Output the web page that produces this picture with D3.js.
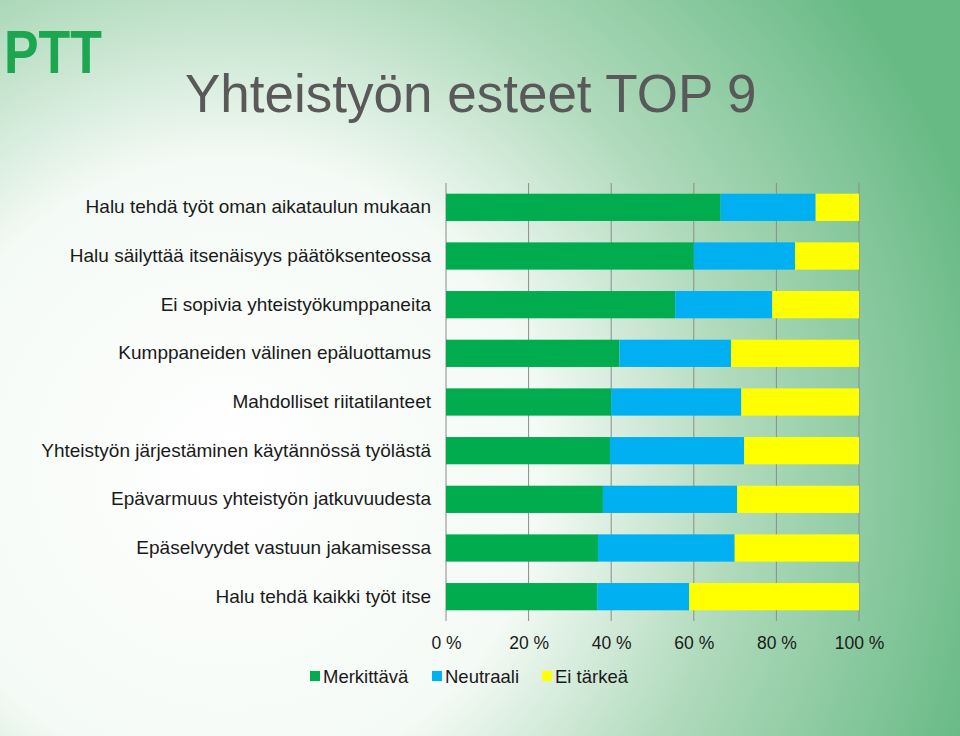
<!DOCTYPE html>
<html>
<head>
<meta charset="utf-8">
<script src="https://cdn.jsdelivr.net/npm/d3@7"></script>
<style>
  body { margin: 0; }
  svg { display: block; font-family: "Liberation Sans", Arial, sans-serif; }
</style>
</head>
<body>
<svg width="960" height="736"></svg>
<script>
// categories top to bottom
var categories = [
  "Halu tehdä työt oman aikataulun mukaan",
  "Halu säilyttää itsenäisyys päätöksenteossa",
  "Ei sopivia yhteistyökumppaneita",
  "Kumppaneiden välinen epäluottamus",
  "Mahdolliset riitatilanteet",
  "Yhteistyön järjestäminen käytännössä työlästä",
  "Epävarmuus yhteistyön jatkuvuudesta",
  "Epäselvyydet vastuun jakamisessa",
  "Halu tehdä kaikki työt itse"
];
var merkittava = [66.5, 60.0, 55.5, 42.0, 40.0, 39.7, 38.0, 36.8, 36.6];
var neutraali  = [23.0, 24.5, 23.5, 27.0, 31.5, 32.5, 32.5, 33.1, 22.3];
var eiTarkea   = [10.5, 15.5, 21.0, 31.0, 28.5, 27.8, 29.5, 30.1, 41.1];
var seriesNames = ["Merkittävä", "Neutraali", "Ei tärkeä"];
var seriesColors = ["#00ac4e", "#00b0f0", "#ffff00"];
var tickValues = [0, 20, 40, 60, 80, 100];

var svg = d3.select("svg"),
    width = +svg.attr("width"),
    height = +svg.attr("height");

// background gradient, white on the left going green to the right
var defs = svg.append("defs");
var grad = defs.append("radialGradient")
    .attr("id", "bg")
    .attr("gradientUnits", "userSpaceOnUse")
    .attr("cx", 230).attr("cy", 470).attr("r", 780);
grad.append("stop").attr("offset", "0%").attr("stop-color", "#ffffff");
grad.append("stop").attr("offset", "40%").attr("stop-color", "#f4faf5");
grad.append("stop").attr("offset", "65%").attr("stop-color", "#b0dabc");
grad.append("stop").attr("offset", "100%").attr("stop-color", "#68ba85");

svg.append("rect")
    .attr("width", width).attr("height", height)
    .attr("fill", "url(#bg)");

// logo
svg.append("text")
    .attr("x", 4).attr("y", 73)
    .attr("font-size", 62)
    .attr("font-weight", "bold")
    .attr("textLength", 98)
    .attr("lengthAdjust", "spacingAndGlyphs")
    .attr("fill", "#1ca64f")
    .text("PTT");

// title
svg.append("text")
    .attr("x", 185).attr("y", 112)
    .attr("font-size", 53)
    .attr("fill", "#595959")
    .text("Yhteistyön esteet TOP 9");

var margin = {left: 446, right: 101, top: 183, bottom: 115};

var x = d3.scaleLinear().domain([0, 100]).range([margin.left, width - margin.right]);
var y = d3.scaleBand().domain(categories)
    .range([margin.top, height - margin.bottom])
    .paddingInner(0.44).paddingOuter(0.22);

// gridlines
svg.append("g")
    .selectAll("line")
    .data(tickValues)
    .enter().append("line")
    .attr("x1", function (d) { return x(d); })
    .attr("x2", function (d) { return x(d); })
    .attr("y1", margin.top)
    .attr("y2", height - margin.bottom)
    .attr("stroke", "#8c8c8c")
    .attr("stroke-width", 1);

// stack the series
var rows = categories.map(function (c, i) {
  return {cat: c, "Merkittävä": merkittava[i], "Neutraali": neutraali[i], "Ei tärkeä": eiTarkea[i]};
});
var stacked = d3.stack().keys(seriesNames)(rows);

svg.append("g")
    .selectAll("g")
    .data(stacked)
    .enter().append("g")
    .attr("fill", function (d, i) { return seriesColors[i]; })
    .selectAll("rect")
    .data(function (d) { return d; })
    .enter().append("rect")
    .attr("x", function (d) { return x(d[0]); })
    .attr("width", function (d) { return x(d[1]) - x(d[0]); })
    .attr("y", function (d) { return y(d.data.cat); })
    .attr("height", y.bandwidth());

// category labels
var yAxis = svg.append("g")
    .attr("transform", "translate(" + (margin.left - 4) + ",0)")
    .call(d3.axisLeft(y).tickSize(0).tickPadding(11));
yAxis.select(".domain").remove();
yAxis.selectAll("text")
    .attr("font-size", 19)
    .attr("font-family", "Liberation Sans, Arial, sans-serif")
    .attr("fill", "#1a1a1a");

// x axis labels
var xAxis = svg.append("g")
    .attr("transform", "translate(0," + (height - margin.bottom) + ")")
    .call(d3.axisBottom(x).tickValues(tickValues).tickSize(0).tickPadding(16)
      .tickFormat(function (d) { return d + " %"; }));
xAxis.select(".domain").remove();
xAxis.selectAll("text")
    .attr("font-size", 17.5)
    .attr("font-family", "Liberation Sans, Arial, sans-serif")
    .attr("fill", "#1a1a1a");

// legend
var legendX = [310, 432, 542];
var legend = svg.append("g")
    .selectAll("g")
    .data(seriesNames)
    .enter().append("g")
    .attr("transform", function (d, i) { return "translate(" + legendX[i] + ",677)"; });
legend.append("rect")
    .attr("x", 0).attr("y", -6)
    .attr("width", 10).attr("height", 10)
    .attr("fill", function (d, i) { return seriesColors[i]; });
legend.append("text")
    .attr("x", 13).attr("y", 6)
    .attr("font-size", 18.5)
    .attr("fill", "#1a1a1a")
    .text(function (d) { return d; });
</script>
</body>
</html>
